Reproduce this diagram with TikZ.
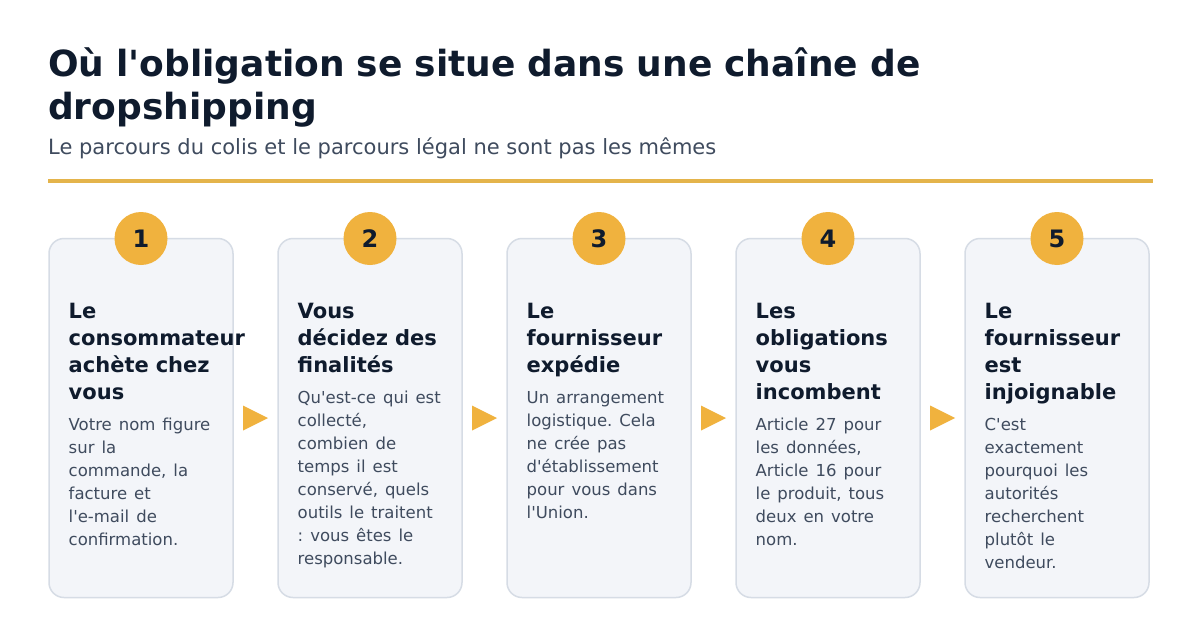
\documentclass[tikz,border=0pt]{standalone}
\usepackage{fontspec}
\setmainfont{DejaVu Sans}[Ligatures=TeXOff]
\usetikzlibrary{calc,positioning}
\definecolor{ink}{HTML}{0F1B2D}
\definecolor{slate}{HTML}{3F4B5E}
\definecolor{cardfill}{HTML}{F3F5F9}
\definecolor{cardline}{HTML}{D6DCE5}
\definecolor{gold}{HTML}{F0B23E}
\definecolor{rulegold}{HTML}{E4B44B}
\tikzset{
	card/.style={draw=cardline, line width=1.5pt, fill=cardfill, rounded corners=15pt, minimum width=184pt, minimum height=359pt, inner sep=0pt, outer sep=0pt},
	badge/.style={circle, fill=gold, minimum size=53pt, inner sep=0pt, font=\bfseries\fontsize{24}{24}\selectfont, text=ink},
	cardtext/.style={anchor=base west, inner sep=0pt, text width=170pt, align=left, text=ink, font=\frenchspacing\bfseries\fontsize{21}{27}\selectfont},
	arrowtip/.style={fill=gold},
}
\newcommand{\cardbody}[1]{\par\vspace{8pt}\mdseries\fontsize{16.5}{23}\selectfont\color{slate}#1\par}

\begin{document}
\begin{tikzpicture}[x=1pt, y=-1pt]
		%%%%% START %%%%%
		
		\fill[white] (0, 0) rectangle (1200, 637);
		\useasboundingbox (0, 0) rectangle (1200, 637);
		
		\node[anchor=base west, inner sep=0pt, text width=1000pt, align=left, font=\bfseries\fontsize{36}{43}\selectfont, text=ink] (title) at (48, 76) {Où l'obligation se situe dans une chaîne de\\dropshipping\par};
		\node[anchor=base west, inner sep=0pt, font=\fontsize{21}{25}\selectfont, text=slate] (subtitle) at (48, 154) {Le parcours du colis et le parcours légal ne sont pas les mêmes};
		
		\draw[line width=3.5pt, color=rulegold] (48, 181) -- (1153, 181);
		
		\node[card] (c1) at (141, 418) {};
		\node[card, right=45pt of c1] (c2) {};
		\node[card, right=45pt of c2] (c3) {};
		\node[card, right=45pt of c3] (c4) {};
		\node[card, right=45pt of c4] (c5) {};
		
		\node[badge] (n1) at (c1.north) {1};
		\node[badge] (n2) at (c2.north) {2};
		\node[badge] (n3) at (c3.north) {3};
		\node[badge] (n4) at (c4.north) {4};
		\node[badge] (n5) at (c5.north) {5};
		
		\node[cardtext] (t1) at ([xshift=19.5pt, yshift=-79.5pt]c1.north west) {Le\\consommateur\\achète chez\\vous\cardbody{Votre nom figure\\sur la\\commande, la\\facture et\\l'e-mail de\\confirmation.}};
		\node[cardtext] (t2) at ([xshift=19.5pt, yshift=-79.5pt]c2.north west) {Vous\\décidez des\\finalités\cardbody{Qu'est-ce qui est\\collecté,\\combien de\\temps il est\\conservé, quels\\outils le traitent\\: vous êtes le\\responsable.}};
		\node[cardtext] (t3) at ([xshift=19.5pt, yshift=-79.5pt]c3.north west) {Le\\fournisseur\\expédie\cardbody{Un arrangement\\logistique. Cela\\ne crée pas\\d'établissement\\pour vous dans\\l'Union.}};
		\node[cardtext] (t4) at ([xshift=19.5pt, yshift=-79.5pt]c4.north west) {Les\\obligations\\vous\\incombent\cardbody{Article 27 pour\\les données,\\Article 16 pour\\le produit, tous\\deux en votre\\nom.}};
		\node[cardtext] (t5) at ([xshift=19.5pt, yshift=-79.5pt]c5.north west) {Le\\fournisseur\\est\\injoignable\cardbody{C'est\\exactement\\pourquoi les\\autorités\\recherchent\\plutôt le\\vendeur.}};
		
		\fill[arrowtip] ($(c1.east)!0.5!(c2.west)+(-12.5, -12.5)$) -- ++(25, 12.5) -- ++(-25, 12.5) -- cycle;
		\fill[arrowtip] ($(c2.east)!0.5!(c3.west)+(-12.5, -12.5)$) -- ++(25, 12.5) -- ++(-25, 12.5) -- cycle;
		\fill[arrowtip] ($(c3.east)!0.5!(c4.west)+(-12.5, -12.5)$) -- ++(25, 12.5) -- ++(-25, 12.5) -- cycle;
		\fill[arrowtip] ($(c4.east)!0.5!(c5.west)+(-12.5, -12.5)$) -- ++(25, 12.5) -- ++(-25, 12.5) -- cycle;
		
		%%%%% END %%%%%
\end{tikzpicture}
\end{document}
